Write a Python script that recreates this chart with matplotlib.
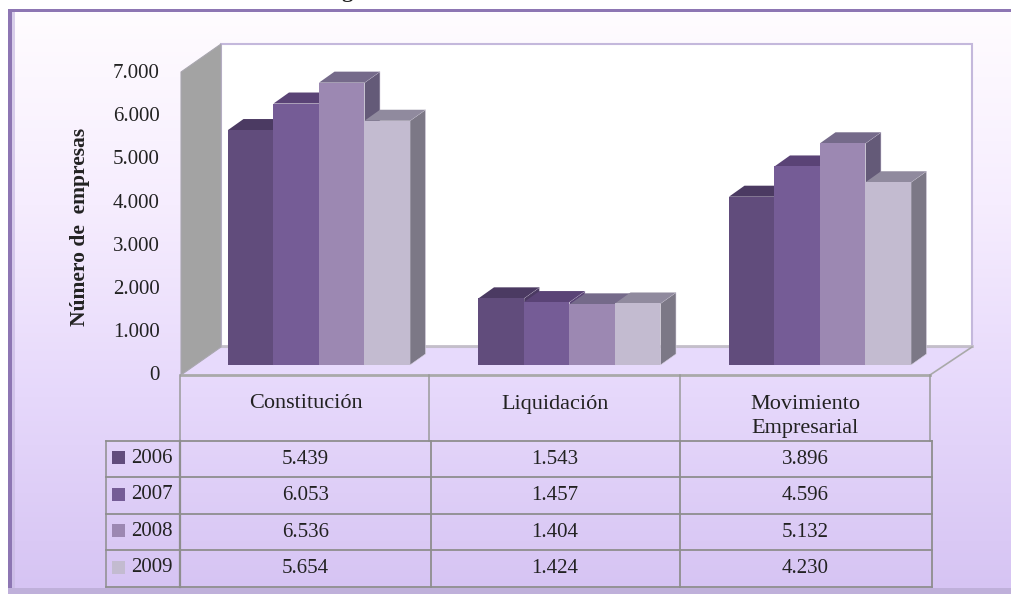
import numpy as np
import matplotlib
matplotlib.use('Agg')
import matplotlib.pyplot as plt
from matplotlib.colors import LinearSegmentedColormap
from matplotlib.patches import Polygon, Rectangle

categories = ['Constitución', 'Liquidación', 'Movimiento\nEmpresarial']
years = ['2006', '2007', '2008', '2009']
values_2006 = [5439, 1543, 3896]
values_2007 = [6053, 1457, 4596]
values_2008 = [6536, 1404, 5132]
values_2009 = [5654, 1424, 4230]
y_ticks = [0, 1000, 2000, 3000, 4000, 5000, 6000, 7000]
series = [values_2006, values_2007, values_2008, values_2009]

front_colors = ['#614c7c', '#755c96', '#9c88b2', '#c3bbd0']
top_colors = ['#4b3a62', '#5a4376', '#756a8a', '#908a9e']
side_colors = ['#4b3a62', '#5a4376', '#645a78', '#7c7886']
grid_color = '#8e8e8e'
text_color = '#222222'


def fmt(v):
    return f'{v:,}'.replace(',', '.')


plt.rcParams['font.family'] = ['Liberation Serif', 'DejaVu Serif']
W, H = 1012, 594
fig = plt.figure(figsize=(W / 100, H / 100), dpi=100, facecolor='white')

# capa en pixeles para el marco, las paredes y la tabla
bg = fig.add_axes([0, 0, 1, 1])
cmap = LinearSegmentedColormap.from_list('fondo', ['#fffcff', '#f6edfe', '#e6d8fb', '#d6c4f3'])
grad = np.linspace(0, 1, 256).reshape(-1, 1)
bg.imshow(grad, cmap=cmap, extent=(8, W + 4, 590, 12), aspect='auto', zorder=0)
bg.set_xlim(0, W)
bg.set_ylim(H, 0)
bg.axis('off')

# borde biselado
bg.add_patch(Rectangle((8, 9), W - 6, 3, color='#8d76b3', lw=0, zorder=1))
bg.add_patch(Rectangle((8, 9), 4, 580, color='#8d76b3', lw=0, zorder=1))
bg.add_patch(Rectangle((12, 12), 3, 577, color='#c9bbe2', lw=0, alpha=0.7, zorder=1))
bg.add_patch(Rectangle((8, 588), W - 6, 6, color='#bfb0da', lw=0, zorder=1))

# pared del fondo, pared lateral y suelo
bg.add_patch(Polygon([(181, 375), (221, 347), (972, 347), (930, 375)], color='#e7dafc', lw=0, zorder=2))
bg.add_patch(Rectangle((221, 44), 751, 303, fc='white', ec='#c4b8dc', lw=1.5, zorder=2))
bg.plot([221, 972], [346, 346], color='#c4bfca', lw=2, zorder=3)
bg.add_patch(Polygon([(181, 72), (221, 44), (221, 347), (181, 375)], fc='#a3a3a3', ec='#a8a6ae', lw=0.8, zorder=3))
bg.plot([181, 930], [374.5, 374.5], color='#a9a9a9', lw=2, zorder=3)
bg.plot([930, 972], [375, 347], color='#a9a9a9', lw=1.2, zorder=3)

# tabla de datos
row_lines = [440.5, 477, 513.5, 550, 586.5]
for x in [180.5, 429.5, 680, 930]:
    bg.plot([x, x], [375, 440.5], color='#9a9a9a', lw=1.1, zorder=3)
for x, lw in [(106.5, 1.1), (180.5, 1.6), (431, 1.3), (680, 1.3), (932.5, 1.3)]:
    bg.plot([x, x], [row_lines[0], row_lines[-1]], color=grid_color, lw=lw, zorder=3)
for y in row_lines:
    bg.plot([106.5, 932.5], [y, y], color=grid_color, lw=1.3, zorder=3)

col_centers = [305.5, 555, 805]
for x, name in zip(col_centers, categories):
    bg.text(x, 416.5 if '\n' in name else 404, name, ha='center', va='center', fontsize=16,
            color=text_color, linespacing=1.4, zorder=4)
for r, (year, vals) in enumerate(zip(years, series)):
    yc = (row_lines[r] + row_lines[r + 1]) / 2
    bg.add_patch(Rectangle((112, yc - 7.5), 13, 13, color=front_colors[r], lw=0, zorder=4))
    bg.text(152, yc - 0.5, year, ha='center', va='center', fontsize=15, color=text_color, zorder=4)
    for x, v in zip(col_centers, vals):
        bg.text(x, yc + 0.5, fmt(v), ha='center', va='center', fontsize=15, color=text_color, zorder=4)

bg.text(80, 227, 'Número de  empresas', rotation=90, ha='center', va='center', fontsize=15.5,
        fontweight='bold', color=text_color, zorder=4)
bg.text(347, -3, 'g', ha='center', va='baseline', fontsize=16, fontweight='bold', color=text_color, zorder=4)

# barras: eje con su propia escala (0-7000, categorias 0,1,2)
group_px = 250.5
px_per_unit = 0.0432
x_left = 319 - 0.5 * group_px
x_right = x_left + 3 * group_px
y_bottom = 365
y_top = y_bottom - 7000 * px_per_unit
ax = fig.add_axes([x_left / W, 1 - y_bottom / H, (x_right - x_left) / W, (y_bottom - y_top) / H], zorder=5)
ax.patch.set_alpha(0)
ax.axis('off')
ax.set_xlim(-0.5, 2.5)
ax.set_ylim(0, 7000)

bar_w = 45.5 / group_px
depth_x = 15.5 / group_px
depth_y = 11 / px_per_unit

for c in range(len(categories)):
    for s, vals in enumerate(series):
        x0 = c + (s - 2) * bar_w
        x1 = x0 + bar_w
        v = vals[c]
        ax.add_patch(Polygon([(x1, 0), (x1 + depth_x, depth_y), (x1 + depth_x, v + depth_y), (x1, v)],
                             fc=side_colors[s], ec='#d8d2e2', lw=0.4, clip_on=False))
        ax.add_patch(Polygon([(x0, v), (x0 + depth_x, v + depth_y), (x1 + depth_x, v + depth_y), (x1, v)],
                             fc=top_colors[s], ec='none', clip_on=False))
        ax.bar(x0, v, width=bar_w, align='edge', color=front_colors[s], edgecolor='none', clip_on=False)

# etiquetas del eje y, desplazadas respecto al plano frontal
for t in y_ticks:
    ax.annotate(fmt(t), xy=(0, t), xycoords=('figure fraction', 'data'), xytext=(159.5 * 0.72, -11 * 0.72),
                textcoords='offset points', ha='right', va='center', fontsize=15, color=text_color,
                annotation_clip=False)

fig.savefig('out.png', dpi=100)
